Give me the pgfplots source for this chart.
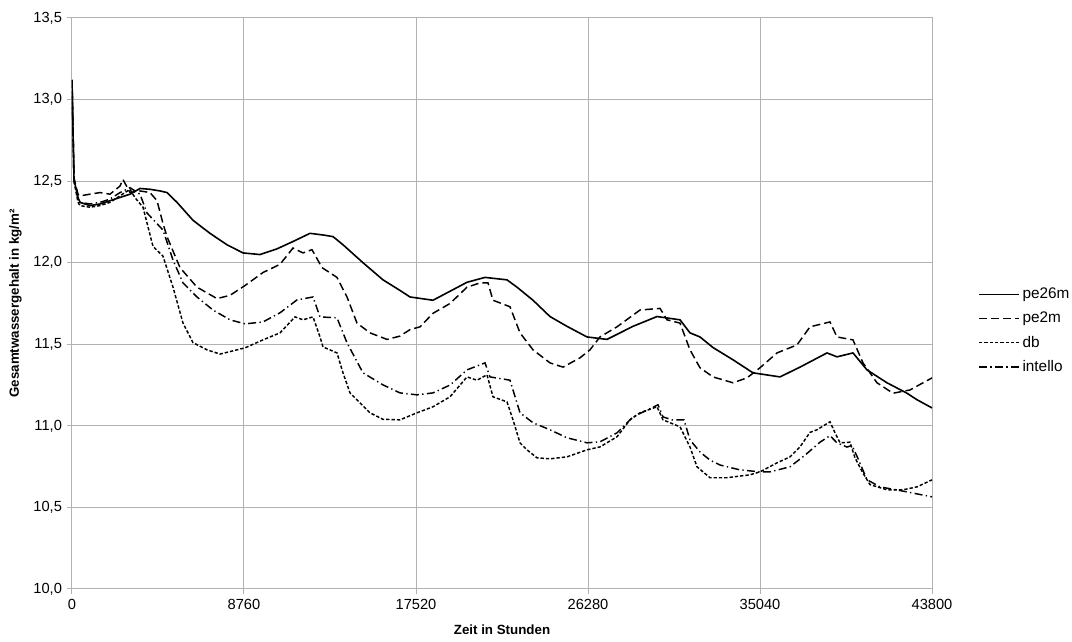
\documentclass[border=0pt]{standalone}
\usepackage{pgfplots}
\pgfplotsset{compat=1.18}
\usepackage{fontspec}
\setmainfont{Liberation Sans}
\begin{document}
\begin{tikzpicture}
\begin{axis}[
  at={(0,0)}, anchor=south west,
  scale only axis, width=645pt, height=428.25pt,
  xmin=0, xmax=43800, ymin=10, ymax=13.5,
  xtick={0,8760,17520,26280,35040,43800},
  ytick={10,10.5,11,11.5,12,12.5,13,13.5},
  grid=major, major grid style={draw=black!30, line width=0.75pt},
  axis line style={draw=black!30, line width=0.75pt},
  tick style={draw=black!30, line width=0.75pt},
  tick align=outside, major tick length=4pt, tick pos=left,
  scaled ticks=false,
  /pgf/number format/assume math mode=true,
  yticklabel style={/pgf/number format/.cd, fixed, fixed zerofill, precision=1, use comma},
  xticklabel style={/pgf/number format/.cd, fixed, 1000 sep={}},
  ticklabel style={font=\fontsize{11}{13}\selectfont},
  xlabel={Zeit in Stunden}, ylabel={Gesamtwassergehalt in kg/m²},
  label style={font=\fontsize{10}{12}\selectfont\bfseries},
  xlabel style={at={(axis description cs:0.5,-0.0718)}, anchor=center},
  ylabel style={at={(axis description cs:-0.0657,0.5)}, anchor=center},
  legend style={draw=none, fill=none, at={(axis description cs:1.0535,0.452)}, anchor=west,
    font=\fontsize{11.5}{13}\selectfont, row sep=4.5pt, inner sep=0pt},
  legend cell align=left,
  legend image code/.code={\draw[#1] (0pt,0pt) -- (30pt,0pt);},
]
% pe26m
\addplot[black, line width=1.2pt] coordinates {
(0,13.12)(102,12.51)(306,12.40)(407,12.37)(917,12.35)(1426,12.36)(1935,12.38)(2445,12.40)
(2954,12.42)(3463,12.455)(3973,12.45)(4482,12.44)(4838,12.43)(5348,12.37)(6163,12.26)
(7028,12.18)(7894,12.11)(8709,12.06)(9575,12.05)(10441,12.085)(11256,12.13)(12121,12.18)
(12783,12.17)(13293,12.16)(13802,12.11)(14821,12.00)(15839,11.895)(16705,11.83)(17214,11.79)
(18386,11.77)(20117,11.88)(21034,11.91)(22154,11.895)(22664,11.85)(23479,11.77)(24345,11.67)
(25210,11.61)(26229,11.545)(27248,11.53)(28572,11.61)(29794,11.67)(30965,11.65)(31474,11.57)
(31984,11.545)(32646,11.48)(33664,11.405)(34683,11.325)(36058,11.30)(37077,11.36)(38452,11.447)
(38961,11.423)(39776,11.447)(40489,11.343)(41508,11.264)(42527,11.20)(43036,11.16)(43800,11.11)
};
\addlegendentry{pe26m}
% pe2m
\addplot[black, line width=1.1pt, dash pattern=on 6pt off 3pt] coordinates {
(0,13.12)(102,12.52)(306,12.42)(407,12.41)(917,12.42)(1426,12.43)(1935,12.42)(2445,12.47)
(2597,12.51)(2954,12.43)(3463,12.44)(3973,12.43)(4330,12.38)(4635,12.24)(4838,12.16)(5500,11.97)
(6366,11.85)(7385,11.78)(8047,11.80)(8811,11.86)(9728,11.94)(10593,11.99)(11256,12.09)(11765,12.06)
(12223,12.08)(12733,11.97)(13496,11.91)(14006,11.79)(14515,11.63)(15177,11.57)(16043,11.53)
(16705,11.55)(17214,11.59)(17724,11.607)(18386,11.69)(19252,11.75)(20117,11.85)(20779,11.876)
(21187,11.876)(21441,11.77)(22307,11.73)(22817,11.57)(23479,11.466)(24345,11.386)(25007,11.36)
(25872,11.417)(26381,11.466)(26891,11.545)(27757,11.607)(28928,11.71)(29947,11.72)(30303,11.65)
(30965,11.63)(31474,11.466)(31984,11.356)(32646,11.30)(33664,11.264)(34377,11.294)(35040,11.356)
(35906,11.447)(36924,11.496)(37586,11.607)(38605,11.637)(38961,11.545)(39776,11.527)(40285,11.386)
(40998,11.264)(41813,11.20)(42679,11.22)(43800,11.294)
};
\addlegendentry{pe2m}
% db
\addplot[black, line width=1.1pt, dash pattern=on 2.5pt off 1.5pt] coordinates {
(0,13.12)(102,12.50)(306,12.37)(407,12.35)(917,12.34)(1426,12.35)(1935,12.37)(2445,12.41)
(2954,12.45)(3200,12.40)(3616,12.34)(4125,12.10)(4635,12.04)(5144,11.85)(5653,11.63)(6163,11.51)
(6876,11.466)(7538,11.44)(8403,11.466)(8811,11.478)(9728,11.527)(10593,11.57)(11357,11.668)
(11765,11.65)(12274,11.668)(12631,11.545)(12783,11.484)(13496,11.447)(13802,11.325)(14159,11.202)
(15177,11.08)(15839,11.04)(16705,11.037)(17571,11.08)(18386,11.117)(19252,11.178)(20117,11.30)
(20626,11.28)(21136,11.313)(21441,11.178)(22154,11.147)(22460,11.037)(22817,10.896)(23173,10.853)
(23682,10.804)(24345,10.798)(25210,10.81)(26229,10.853)(26891,10.871)(27757,10.933)(28419,11.037)
(28928,11.08)(29794,11.117)(30100,11.037)(30965,10.994)(31474,10.871)(31831,10.749)(32493,10.682)
(33359,10.682)(34530,10.70)(35040,10.718)(35906,10.773)(36570,10.81)(37077,10.871)(37586,10.96)
(37943,10.976)(38605,11.025)(38861,10.957)(39114,10.896)(39623,10.90)(39877,10.804)(40285,10.71)
(40642,10.64)(41508,10.608)(42323,10.608)(43036,10.626)(43800,10.669)
};
\addlegendentry{db}
% intello
\addplot[black, line width=1.1pt, dash pattern=on 6pt off 2.5pt on 1pt off 2.5pt] coordinates {
(0,13.12)(102,12.50)(306,12.39)(407,12.37)(917,12.36)(1426,12.37)(1935,12.39)(2445,12.43)
(2954,12.46)(3463,12.42)(3820,12.305)(4635,12.20)(5144,12.017)(5653,11.876)(6366,11.79)
(7181,11.71)(8047,11.65)(8811,11.625)(9728,11.637)(10593,11.693)(11459,11.772)(12274,11.79)
(12631,11.668)(13496,11.662)(14006,11.509)(14821,11.325)(15839,11.251)(16705,11.202)(17571,11.19)
(18386,11.202)(19252,11.25)(20117,11.343)(21034,11.386)(21289,11.30)(22307,11.28)(22817,11.08)
(23479,11.019)(24345,10.976)(25210,10.927)(26229,10.896)(26891,10.902)(27757,10.957)(28572,11.055)
(29845,11.129)(30100,11.055)(30557,11.037)(31169,11.037)(31474,10.914)(31984,10.84)(32493,10.79)
(33002,10.76)(34021,10.73)(35040,10.718)(35550,10.718)(36567,10.749)(37330,10.82)(38097,10.90)
(38605,10.94)(38961,10.896)(39470,10.87)(39723,10.88)(40030,10.80)(40489,10.67)(41151,10.626)
(42323,10.60)(43800,10.565)
};
\addlegendentry{intello}
\end{axis}
\pgfresetboundingbox
\path (-54pt,-39.75pt) rectangle (750pt,441.75pt);
\end{tikzpicture}
\end{document}
